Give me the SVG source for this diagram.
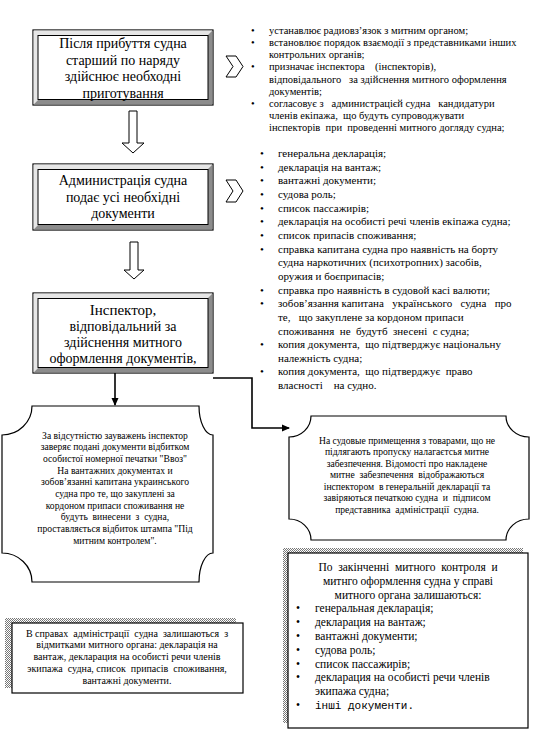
<svg xmlns="http://www.w3.org/2000/svg" width="547" height="729" viewBox="0 0 547 729" font-family="'Liberation Serif', 'DejaVu Serif', serif">
<style>
text{font-family:'Liberation Serif','DejaVu Serif',serif;fill:#000}
.bt{font-size:14px;text-anchor:middle}
.l1{font-size:10.5px}
.l2{font-size:11px}
.sm{font-size:9.6px;text-anchor:middle}
.br{font-size:11.5px}
.brc{font-size:11.5px;text-anchor:middle}
.mono{font-family:'Liberation Mono','DejaVu Sans Mono',monospace;font-size:11px}
.ln{fill:none;stroke:#000;stroke-width:1.6}
.out{fill:#fff;stroke:#000;stroke-width:1.2}
.lt{fill:#e6e6e6;stroke:none}
.dk{fill:#8c8c8c;stroke:none}
.in{fill:#fff;stroke:#000;stroke-width:1}
.blk{fill:#fff;stroke:#000;stroke-width:1}
.shape{fill:#fff;stroke:#000;stroke-width:1.2}
</style>
<defs>
<marker id="ah" markerWidth="8" markerHeight="8" refX="7" refY="4" orient="auto" markerUnits="userSpaceOnUse">
<path d="M0,0.5 L8,4 L0,7.5 Z" fill="#000"/>
</marker>
<pattern id="dith" width="2" height="2" patternUnits="userSpaceOnUse">
<rect width="2" height="2" fill="#fff"/>
<rect x="0" y="0" width="1" height="1" fill="#777"/>
<rect x="1" y="1" width="1" height="1" fill="#777"/>
</pattern>
</defs>

<g id="box1">
<rect class="out" x="33" y="30" width="180" height="75"/>
<polygon class="lt" points="33.6,30.6 212.4,30.6 207.5,35.5 38.5,35.5 38.5,99.5 33.6,104.4"/>
<polygon class="dk" points="212.4,30.6 212.4,104.4 33.6,104.4 38.5,99.5 207.5,99.5 207.5,35.5"/>
<rect class="in" x="38" y="35.5" width="170" height="64"/>
<text class="bt" x="123" y="48">Після прибуття судна</text>
<text class="bt" x="123" y="64.5">старший по наряду</text>
<text class="bt" x="123" y="81">здійснює необходні</text>
<text class="bt" x="123" y="97.5">приготування</text>
</g>

<g id="box2">
<rect class="out" x="33" y="164" width="180" height="66"/>
<polygon class="lt" points="33.6,164.6 212.4,164.6 207.5,169.5 38.5,169.5 38.5,224.5 33.6,229.4"/>
<polygon class="dk" points="212.4,164.6 212.4,229.4 33.6,229.4 38.5,224.5 207.5,224.5 207.5,169.5"/>
<rect class="in" x="38" y="169.5" width="170" height="55"/>
<text class="bt" x="123" y="185">Администрація судна</text>
<text class="bt" x="123" y="201.5">подає усі необхідні</text>
<text class="bt" x="123" y="218">документи</text>
</g>

<g id="box3">
<rect class="out" x="33" y="293" width="180" height="80"/>
<polygon class="lt" points="33.6,293.6 212.4,293.6 207.5,298.5 38.5,298.5 38.5,367.5 33.6,372.4"/>
<polygon class="dk" points="212.4,293.6 212.4,372.4 33.6,372.4 38.5,367.5 207.5,367.5 207.5,298.5"/>
<rect class="in" x="38" y="298.5" width="170" height="69"/>
<text class="bt" x="123" y="315" style="font-size:15px">Інспектор,</text>
<text class="bt" x="123" y="331">відповідальний за</text>
<text class="bt" x="123" y="347">здійснення митного</text>
<text class="bt" x="123" y="362.5">оформлення документів,</text>
</g>

<g id="arrow1">
<polygon class="blk" points="129,111 137,111 137,143 144,143 133,153 122,143 129,143"/>
</g>
<g id="arrow2">
<polygon class="blk" points="130,242 138,242 138,270 144,270 134,279 124,270 130,270"/>
</g>

<g id="chevron1">
<polygon class="blk" points="226,56 236,56 243,66.5 236,77 226,77 233,66.5"/>
</g>
<g id="chevron2">
<polygon class="blk" points="226,180 236,180 243,191 236,202 226,202 233,191"/>
</g>

<g id="list1">
<text class="l1" x="251" y="34">•</text><text class="l1" x="269" y="34">устанавлює радиовзʼязок з митним органом;</text>
<text class="l1" x="251" y="46.1">•</text><text class="l1" x="269" y="46.1">встановлює порядок взаємодії з представниками інших</text>
<text class="l1" x="269" y="58.2">контрольних органів;</text>
<text class="l1" x="251" y="70.4">•</text><text class="l1" x="269" y="70.4" xml:space="preserve">призначає інспектора    (інспекторів),</text>
<text class="l1" x="269" y="82.5" xml:space="preserve">відповідального   за здійснення митного оформлення</text>
<text class="l1" x="269" y="94.6">документів;</text>
<text class="l1" x="251" y="106.7">•</text><text class="l1" x="269" y="106.7" xml:space="preserve">согласовує з   администрацієй судна   кандидатури</text>
<text class="l1" x="269" y="118.9" xml:space="preserve">членів екіпажа,  що будуть супроводжувати</text>
<text class="l1" x="269" y="131" xml:space="preserve">інспекторів  при  проведенні митного догляду судна;</text>
</g>

<g id="list2">
<text class="l2" x="260" y="157">•</text><text class="l2" x="278" y="157">генеральна декларація;</text>
<text class="l2" x="260" y="170.6">•</text><text class="l2" x="278" y="170.6">декларація на вантаж;</text>
<text class="l2" x="260" y="184.3">•</text><text class="l2" x="278" y="184.3">вантажні документи;</text>
<text class="l2" x="260" y="198">•</text><text class="l2" x="278" y="198">судова роль;</text>
<text class="l2" x="260" y="211.6">•</text><text class="l2" x="278" y="211.6">список пассажирів;</text>
<text class="l2" x="260" y="225.3">•</text><text class="l2" x="278" y="225.3">декларація на особисті речі членів екіпажа судна;</text>
<text class="l2" x="260" y="238.9">•</text><text class="l2" x="278" y="238.9">список припасів споживання;</text>
<text class="l2" x="260" y="252.6">•</text><text class="l2" x="278" y="252.6">справка капитана судна про наявність на борту</text>
<text class="l2" x="278" y="266.2">судна наркотичних (психотропних) засобів,</text>
<text class="l2" x="278" y="279.9">оружия и боєприпасів;</text>
<text class="l2" x="260" y="293.5">•</text><text class="l2" x="278" y="293.5">справка про наявність в судовой касі валюти;</text>
<text class="l2" x="260" y="307.2">•</text><text class="l2" x="278" y="307.2" xml:space="preserve">зобовʼязання капитана   українського   судна   про</text>
<text class="l2" x="278" y="320.8" xml:space="preserve">те,   що закуплене за кордоном припаси</text>
<text class="l2" x="278" y="334.5" xml:space="preserve">споживання  не  будутб  знесені  с судна;</text>
<text class="l2" x="260" y="348.1">•</text><text class="l2" x="278" y="348.1" xml:space="preserve">копия документа,  що підтверджує національну</text>
<text class="l2" x="278" y="361.8">належність судна;</text>
<text class="l2" x="260" y="375.4">•</text><text class="l2" x="278" y="375.4" xml:space="preserve">копия документа,  що підтверджує  право</text>
<text class="l2" x="278" y="389" xml:space="preserve">власності    на судно.</text>
</g>

<g id="connectors">
<path class="ln" d="M115,373 V405" marker-end="url(#ah)"/>
<path class="ln" d="M213,378 H252 V428 H289" marker-end="url(#ah)"/>
</g>

<g id="plaque-left">
<path class="shape" d="M32,406 H199 A14,29 0 0 0 213,435 V553 A14,29 0 0 0 199,582 H32 A30,29 0 0 0 2,553 V435 A30,29 0 0 0 32,406 Z"/>
<text class="sm" x="115" y="438.5">За відсутністю зауважень інспектор</text>
<text class="sm" x="115" y="450.2">заверяє подані документи відбитком</text>
<text class="sm" x="115" y="461.8">особистої номерної печатки "Ввоз"</text>
<text class="sm" x="115" y="473.5">На вантажних документах и</text>
<text class="sm" x="115" y="485.2">зобовʼязанні капитана украинського</text>
<text class="sm" x="115" y="496.8">судна про те, що закуплені за</text>
<text class="sm" x="115" y="508.5">кордоном припаси споживання не</text>
<text class="sm" x="115" y="520.2" xml:space="preserve">будуть  винесени  з  судна,</text>
<text class="sm" x="115" y="531.8">проставляється відбиток штампа "Під</text>
<text class="sm" x="115" y="543.5">митним контролем".</text>
</g>

<g id="plaque-right">
<path class="shape" d="M311,416 H506 A23,21 0 0 0 529,437 V519 A23,21 0 0 0 506,540 H311 A22,21 0 0 0 289,519 V437 A22,21 0 0 0 311,416 Z"/>
<text class="sm" x="407" y="443.5">На судовые примещення з товарами, що не</text>
<text class="sm" x="407" y="455">підлягають пропуску налагаєтсья митне</text>
<text class="sm" x="407" y="466.5">забезпечення. Відомості про накладене</text>
<text class="sm" x="407" y="478" xml:space="preserve">митне  забезпечення  відображаються</text>
<text class="sm" x="407" y="489.5" xml:space="preserve">інспектором  в генеральній декларації та</text>
<text class="sm" x="407" y="501" xml:space="preserve">завіряються печаткою судна  и  підписом</text>
<text class="sm" x="407" y="512.5" xml:space="preserve">представника  адміністрації  судна.</text>
</g>

<g id="box-bottom-right">
<rect x="283" y="548" width="240" height="175" fill="url(#dith)"/>
<rect x="288" y="553" width="240" height="175" fill="#fff" stroke="#000" stroke-width="1.2"/>
<text class="brc" x="408" y="571" xml:space="preserve">По  закінченні  митного  контроля  и</text>
<text class="brc" x="408" y="584.8">митнго оформлення судна у справі</text>
<text class="brc" x="408" y="598.6">митного органа залишаються:</text>
<text class="br" x="296" y="612.4">•</text><text class="br" x="315" y="612.4">генеральная декларація;</text>
<text class="br" x="296" y="626.2">•</text><text class="br" x="315" y="626.2">декларация на вантаж;</text>
<text class="br" x="296" y="640">•</text><text class="br" x="315" y="640">вантажні документи;</text>
<text class="br" x="296" y="653.8">•</text><text class="br" x="315" y="653.8">судова роль;</text>
<text class="br" x="296" y="667.6">•</text><text class="br" x="315" y="667.6">список пассажирів;</text>
<text class="br" x="296" y="681.4">•</text><text class="br" x="315" y="681.4">декларация на особисті речи членів</text>
<text class="br" x="315" y="695.2">экипажа судна;</text>
<text class="br" x="296" y="709">•</text><text class="mono" x="315" y="709">інші документи.</text>
</g>

<g id="box-bottom-left">
<rect x="5" y="618" width="231" height="70" fill="url(#dith)"/>
<rect x="12" y="623" width="231" height="70" fill="#fff" stroke="#000" stroke-width="1.2"/>
<text class="sm" x="127" y="636.5" style="font-size:10px" xml:space="preserve">В справах  адміністрації  судна  залишаються  з</text>
<text class="sm" x="127" y="648.2" style="font-size:10px">відмитками митного органа: декларація на</text>
<text class="sm" x="127" y="660" style="font-size:10px">вантаж, декларация на особисті речи членів</text>
<text class="sm" x="127" y="671.7" style="font-size:10px" xml:space="preserve">экипажа  судна, список  припасів  споживання,</text>
<text class="sm" x="127" y="683.5" style="font-size:10px">вантажні документи.</text>
</g>
</svg>
